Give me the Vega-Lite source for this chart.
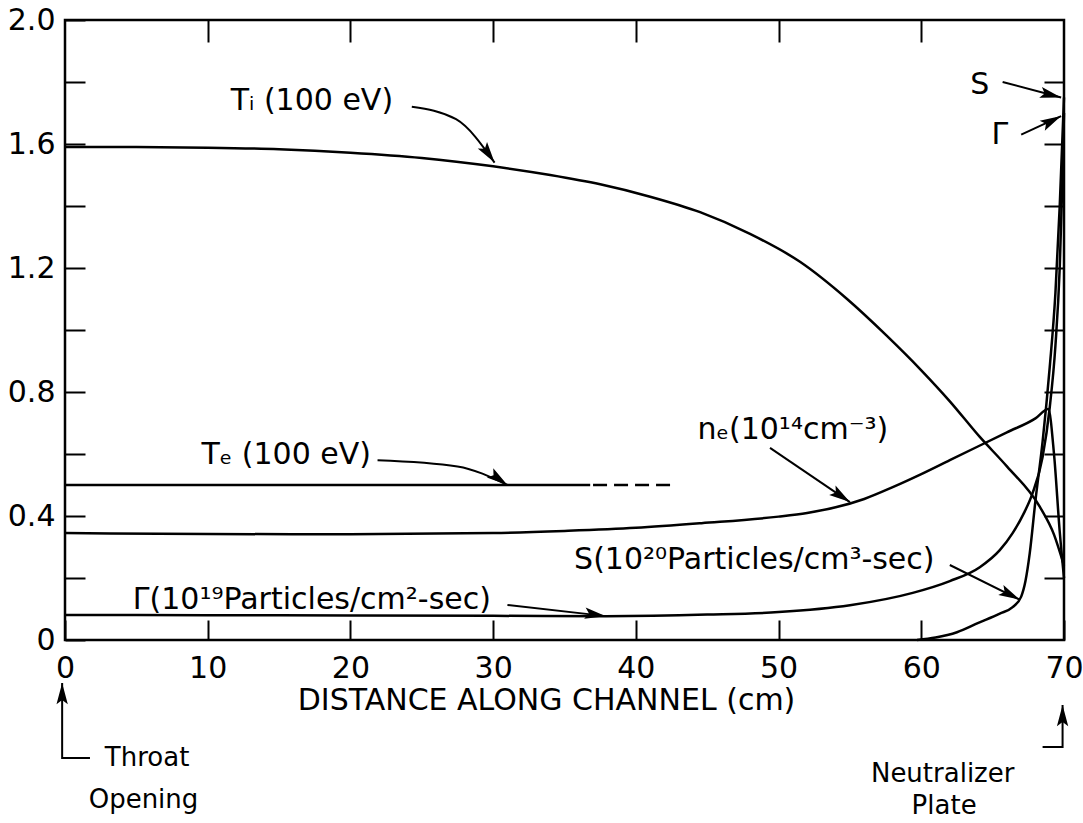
{
  "$schema": "https://vega.github.io/schema/vega-lite/v6.json",
  "width": 999,
  "height": 620,
  "autosize": {"type": "none"},
  "padding": {"left": 65, "top": 20, "right": 19, "bottom": 183},
  "background": "white",
  "config": {
    "view": {"stroke": "black", "strokeWidth": 2.5},
    "font": "DejaVu Sans",
    "axis": {"domain": false, "grid": false, "tickColor": "black", "tickWidth": 2, "labelColor": "black", "labelFont": "DejaVu Sans", "labelFontSize": 30, "titleFont": "DejaVu Sans", "titleFontSize": 30, "titleFontWeight": "normal", "titleColor": "black"}
  },
  "datasets": {
    "curves": [
      {"s": "Ti", "x": 0, "v": 1.59}, {"s": "Ti", "x": 5, "v": 1.59}, {"s": "Ti", "x": 10, "v": 1.588}, {"s": "Ti", "x": 15, "v": 1.583}, {"s": "Ti", "x": 20, "v": 1.572}, {"s": "Ti", "x": 25, "v": 1.555}, {"s": "Ti", "x": 30, "v": 1.528}, {"s": "Ti", "x": 34, "v": 1.5}, {"s": "Ti", "x": 37.5, "v": 1.47}, {"s": "Ti", "x": 41, "v": 1.43}, {"s": "Ti", "x": 44.5, "v": 1.38}, {"s": "Ti", "x": 48, "v": 1.31}, {"s": "Ti", "x": 51.5, "v": 1.22}, {"s": "Ti", "x": 54.8, "v": 1.1}, {"s": "Ti", "x": 57.5, "v": 0.985}, {"s": "Ti", "x": 60, "v": 0.87}, {"s": "Ti", "x": 62, "v": 0.77}, {"s": "Ti", "x": 64.1, "v": 0.655}, {"s": "Ti", "x": 66, "v": 0.56}, {"s": "Ti", "x": 68.3, "v": 0.43}, {"s": "Ti", "x": 69.3, "v": 0.34}, {"s": "Ti", "x": 70, "v": 0.24},
      {"s": "Te", "x": 0, "v": 0.5}, {"s": "Te", "x": 36.8, "v": 0.5},
      {"s": "ne", "x": 0, "v": 0.345}, {"s": "ne", "x": 10, "v": 0.342}, {"s": "ne", "x": 20, "v": 0.341}, {"s": "ne", "x": 30, "v": 0.345}, {"s": "ne", "x": 35, "v": 0.352}, {"s": "ne", "x": 40, "v": 0.362}, {"s": "ne", "x": 44.6, "v": 0.377}, {"s": "ne", "x": 50, "v": 0.398}, {"s": "ne", "x": 52, "v": 0.41}, {"s": "ne", "x": 54, "v": 0.428}, {"s": "ne", "x": 56, "v": 0.455}, {"s": "ne", "x": 58, "v": 0.493}, {"s": "ne", "x": 60, "v": 0.535}, {"s": "ne", "x": 62, "v": 0.58}, {"s": "ne", "x": 64, "v": 0.625}, {"s": "ne", "x": 66, "v": 0.67}, {"s": "ne", "x": 68, "v": 0.715}, {"s": "ne", "x": 68.9, "v": 0.745}, {"s": "ne", "x": 69.3, "v": 0.6}, {"s": "ne", "x": 69.7, "v": 0.35}, {"s": "ne", "x": 70, "v": 0.2},
      {"s": "Gamma", "x": 0, "v": 0.081}, {"s": "Gamma", "x": 10, "v": 0.08}, {"s": "Gamma", "x": 20, "v": 0.079}, {"s": "Gamma", "x": 30, "v": 0.078}, {"s": "Gamma", "x": 37.9, "v": 0.077}, {"s": "Gamma", "x": 45, "v": 0.082}, {"s": "Gamma", "x": 50, "v": 0.09}, {"s": "Gamma", "x": 55, "v": 0.112}, {"s": "Gamma", "x": 59.4, "v": 0.152}, {"s": "Gamma", "x": 62, "v": 0.19}, {"s": "Gamma", "x": 64.1, "v": 0.235}, {"s": "Gamma", "x": 65.5, "v": 0.29}, {"s": "Gamma", "x": 66.4, "v": 0.345}, {"s": "Gamma", "x": 67.2, "v": 0.41}, {"s": "Gamma", "x": 67.8, "v": 0.474}, {"s": "Gamma", "x": 68.5, "v": 0.59}, {"s": "Gamma", "x": 69, "v": 0.75}, {"s": "Gamma", "x": 69.4, "v": 0.95}, {"s": "Gamma", "x": 69.7, "v": 1.2}, {"s": "Gamma", "x": 69.9, "v": 1.5}, {"s": "Gamma", "x": 70, "v": 1.7},
      {"s": "S", "x": 59.7, "v": 0.0}, {"s": "S", "x": 61, "v": 0.008}, {"s": "S", "x": 62.5, "v": 0.025}, {"s": "S", "x": 64, "v": 0.055}, {"s": "S", "x": 65.5, "v": 0.085}, {"s": "S", "x": 66.4, "v": 0.106}, {"s": "S", "x": 67, "v": 0.14}, {"s": "S", "x": 67.3, "v": 0.19}, {"s": "S", "x": 67.6, "v": 0.28}, {"s": "S", "x": 68, "v": 0.45}, {"s": "S", "x": 68.5, "v": 0.64}, {"s": "S", "x": 69, "v": 0.88}, {"s": "S", "x": 69.4, "v": 1.12}, {"s": "S", "x": 69.7, "v": 1.4}, {"s": "S", "x": 70, "v": 1.75}
    ],
    "tedash": [
      {"s": "Te dashed", "x": 37.0, "v": 0.5}, {"s": "Te dashed", "x": 42.4, "v": 0.5}
    ],
    "labels": [
      {"t": "Tᵢ (100 eV)", "x": 17.3, "v": 1.74},
      {"t": "Tₑ (100 eV)", "x": 15.5, "v": 0.597},
      {"t": "nₑ(10¹⁴cm⁻³)", "x": 51.0, "v": 0.677},
      {"t": "S(10²⁰Particles/cm³-sec)", "x": 48.3, "v": 0.258},
      {"t": "Γ(10¹⁹Particles/cm²-sec)", "x": 17.3, "v": 0.13},
      {"t": "S", "x": 64.1, "v": 1.79},
      {"t": "Γ", "x": 65.5, "v": 1.63}
    ],
    "notes": [
      {"t": "Throat", "x": 5.75, "v": -0.381},
      {"t": "Opening", "x": 5.5, "v": -0.516},
      {"t": "Neutralizer", "x": 61.5, "v": -0.432},
      {"t": "Plate", "x": 61.6, "v": -0.535}
    ],
    "arrows": [
      {"a": "Ti", "o": 1, "x": 24.3, "v": 1.72}, {"a": "Ti", "o": 2, "x": 27.4, "v": 1.68}, {"a": "Ti", "o": 3, "x": 30.1, "v": 1.54},
      {"a": "Te", "o": 1, "x": 21.9, "v": 0.58}, {"a": "Te", "o": 2, "x": 27.5, "v": 0.56}, {"a": "Te", "o": 3, "x": 31.0, "v": 0.5},
      {"a": "ne", "o": 1, "x": 49.4, "v": 0.62}, {"a": "ne", "o": 2, "x": 55.0, "v": 0.445},
      {"a": "S", "o": 1, "x": 62.0, "v": 0.242}, {"a": "S", "o": 2, "x": 66.9, "v": 0.13},
      {"a": "G", "o": 1, "x": 31.0, "v": 0.113}, {"a": "G", "o": 2, "x": 37.9, "v": 0.077},
      {"a": "St", "o": 1, "x": 65.7, "v": 1.8}, {"a": "St", "o": 2, "x": 69.8, "v": 1.75},
      {"a": "Gt", "o": 1, "x": 67.0, "v": 1.63}, {"a": "Gt", "o": 2, "x": 69.8, "v": 1.69},
      {"a": "Th", "o": 1, "x": -0.2, "v": -0.139}, {"a": "Th", "o": 2, "x": -0.2, "v": -0.381}, {"a": "Th", "o": 3, "x": 1.75, "v": -0.381},
      {"a": "Ne", "o": 1, "x": 69.9, "v": -0.21}, {"a": "Ne", "o": 2, "x": 69.9, "v": -0.345}, {"a": "Ne", "o": 3, "x": 68.5, "v": -0.345}
    ],
    "heads": [
      {"x": 30.1, "v": 1.54, "ang": 145},
      {"x": 31.0, "v": 0.5, "ang": 125},
      {"x": 55.0, "v": 0.445, "ang": 124},
      {"x": 66.9, "v": 0.13, "ang": 117},
      {"x": 37.9, "v": 0.077, "ang": 98},
      {"x": 69.8, "v": 1.75, "ang": 104},
      {"x": 69.8, "v": 1.69, "ang": 63},
      {"x": -0.2, "v": -0.139, "ang": 0},
      {"x": 69.9, "v": -0.21, "ang": 0}
    ]
  },
  "resolve": {"axis": {"x": "independent", "y": "independent"}},
  "layer": [
    {
      "data": {"name": "curves"},
      "mark": {"type": "line", "color": "black", "strokeWidth": 2.5, "interpolate": "monotone", "clip": false},
      "encoding": {
        "x": {"field": "x", "type": "quantitative", "scale": {"domain": [0, 70], "nice": false, "zero": false},
          "axis": {"orient": "bottom", "values": [0, 10, 20, 30, 40, 50, 60, 70], "tickSize": -20, "labelPadding": 33, "title": "DISTANCE ALONG CHANNEL (cm)", "titlePadding": 2, "titleX": 481, "labelFlush": false}},
        "y": {"field": "v", "type": "quantitative", "scale": {"domain": [0, 2], "nice": false},
          "axis": {"orient": "left", "values": [0, 0.2, 0.4, 0.6, 0.8, 1.0, 1.2, 1.4, 1.6, 1.8, 2.0], "tickSize": -20, "labelPadding": 30, "title": null, "labelFlush": false,
            "labelExpr": "datum.value == 0 ? '0' : (round(datum.value * 10) % 4 == 0 ? format(datum.value, '.1f') : '')"}},
        "detail": {"field": "s"}
      }
    },
    {
      "data": {"name": "tedash"},
      "mark": {"type": "line", "color": "black", "strokeWidth": 2.5, "strokeDash": [14, 7]},
      "encoding": {
        "x": {"field": "x", "type": "quantitative", "axis": {"orient": "top", "values": [10, 20, 30, 40, 50, 60], "tickSize": -22, "labels": false, "title": null}},
        "y": {"field": "v", "type": "quantitative", "axis": {"orient": "right", "values": [0.2, 0.4, 0.6, 0.8, 1.0, 1.2, 1.4, 1.6, 1.8], "tickSize": -20, "labels": false, "title": null}}
      }
    },
    {
      "data": {"name": "arrows"},
      "mark": {"type": "line", "color": "black", "strokeWidth": 2, "interpolate": "monotone", "clip": false},
      "encoding": {
        "x": {"field": "x", "type": "quantitative", "axis": null},
        "y": {"field": "v", "type": "quantitative", "axis": null},
        "detail": {"field": "a"},
        "order": {"field": "o"}
      }
    },
    {
      "data": {"name": "heads"},
      "mark": {"type": "point", "shape": "M0,0L0.4,1.5L0,1.2L-0.4,1.5Z", "filled": true, "color": "black", "size": 800, "opacity": 1, "strokeWidth": 0, "clip": false},
      "encoding": {
        "x": {"field": "x", "type": "quantitative", "axis": null},
        "y": {"field": "v", "type": "quantitative", "axis": null},
        "angle": {"field": "ang", "type": "quantitative", "scale": null}
      }
    },
    {
      "data": {"name": "labels"},
      "mark": {"type": "text", "color": "black", "fontSize": 30, "font": "DejaVu Sans", "align": "center", "baseline": "middle", "clip": false},
      "encoding": {
        "x": {"field": "x", "type": "quantitative", "axis": null},
        "y": {"field": "v", "type": "quantitative", "axis": null},
        "text": {"field": "t"}
      }
    },
    {
      "data": {"name": "notes"},
      "mark": {"type": "text", "color": "black", "fontSize": 26, "font": "DejaVu Sans", "align": "center", "baseline": "middle", "clip": false},
      "encoding": {
        "x": {"field": "x", "type": "quantitative", "axis": null},
        "y": {"field": "v", "type": "quantitative", "axis": null},
        "text": {"field": "t"}
      }
    }
  ]
}
